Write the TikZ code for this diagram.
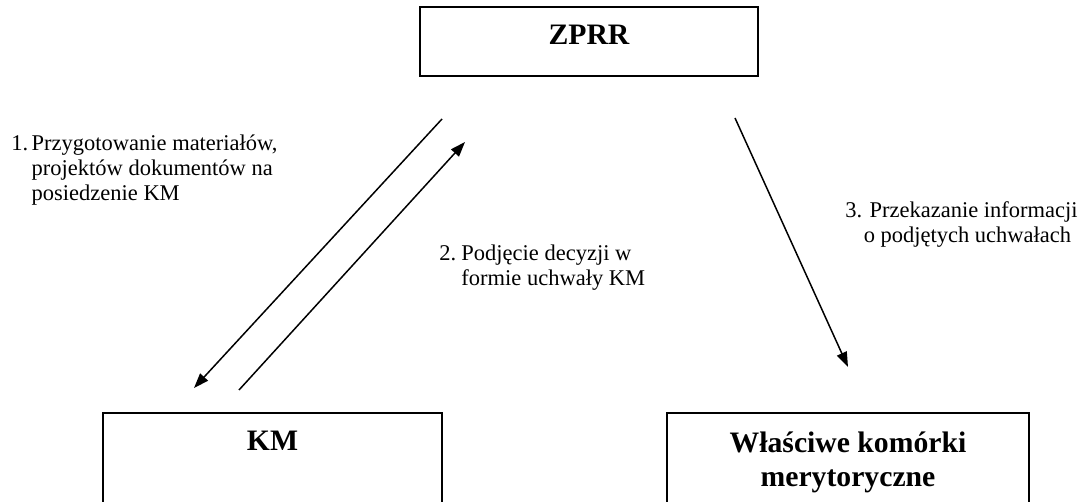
\documentclass[tikz,border=0pt]{standalone}
\usepackage{fontspec}
\setmainfont{Liberation Serif}
\usetikzlibrary{arrows.meta, positioning}

\begin{document}
\begin{tikzpicture}[
  x=0.02cm, y=-0.02cm,
  ramka/.style={
    rectangle, draw=black, line width=1.1pt, inner sep=0pt
  },
  tytul/.style={
    font=\fontsize{16.9}{19.4}\selectfont\bfseries,
    align=center, inner sep=0pt
  },
  opis/.style={
    font=\fontsize{12.8}{14.0}\selectfont,
    inner sep=0pt, anchor=base west
  },
  strz/.style={-{Triangle[length=8.5pt, width=6pt]}, line width=0.85pt}
]
  \useasboundingbox (0,0) rectangle (1079,502);
  \clip (0,0) rectangle (1079,502);

  % ramki
  \node[ramka, minimum width=6.76cm, minimum height=1.38cm] (zprr) at (589,41.5) {};
  \node[ramka, minimum width=6.78cm, minimum height=2.2cm] (km) at (272.5,468) {};
  \node[ramka, minimum width=7.24cm, minimum height=2.2cm] (kom) at (848,468) {};

  \node[tytul, below=0.38cm of zprr.north] (zprrt) {ZPRR};
  \node[tytul, below=0.38cm of km.north] (kmt) {KM};
  \node[tytul, below=0.38cm of kom.north] (komt) {Właściwe komórki\\merytoryczne};

  % strzalki
  \coordinate (s1a) at (442,119);
  \coordinate (s1b) at (194,388);
  \coordinate (s2a) at (239,390);
  \coordinate (s2b) at (465,142);
  \coordinate (s3a) at (735,118);
  \coordinate (s3b) at (848,367);
  \foreach \a/\b in {s1a/s1b,s2a/s2b,s3a/s3b}
    \draw[strz] (\a)--(\b);

  % opisy
  \node[opis] (op1) at (11,151) {\begin{tabular}[t]{@{}l@{\hspace{2pt}}l@{}}
    1. & Przygotowanie materiałów,\\
       & projektów dokumentów na\\
       & posiedzenie KM\end{tabular}};
  \node[opis] (op2) at (439,261) {\begin{tabular}[t]{@{}l@{\hspace{3pt}}l@{}}
    2. & Podjęcie decyzji w\\
       & formie uchwały KM\end{tabular}};
  \node[opis] (op3) at (845,218) {\begin{tabular}[t]{@{}l@{}}
    3. Przekazanie informacji\\
    \hspace*{10.5pt}o podjętych uchwałach\end{tabular}};
\end{tikzpicture}
\end{document}
